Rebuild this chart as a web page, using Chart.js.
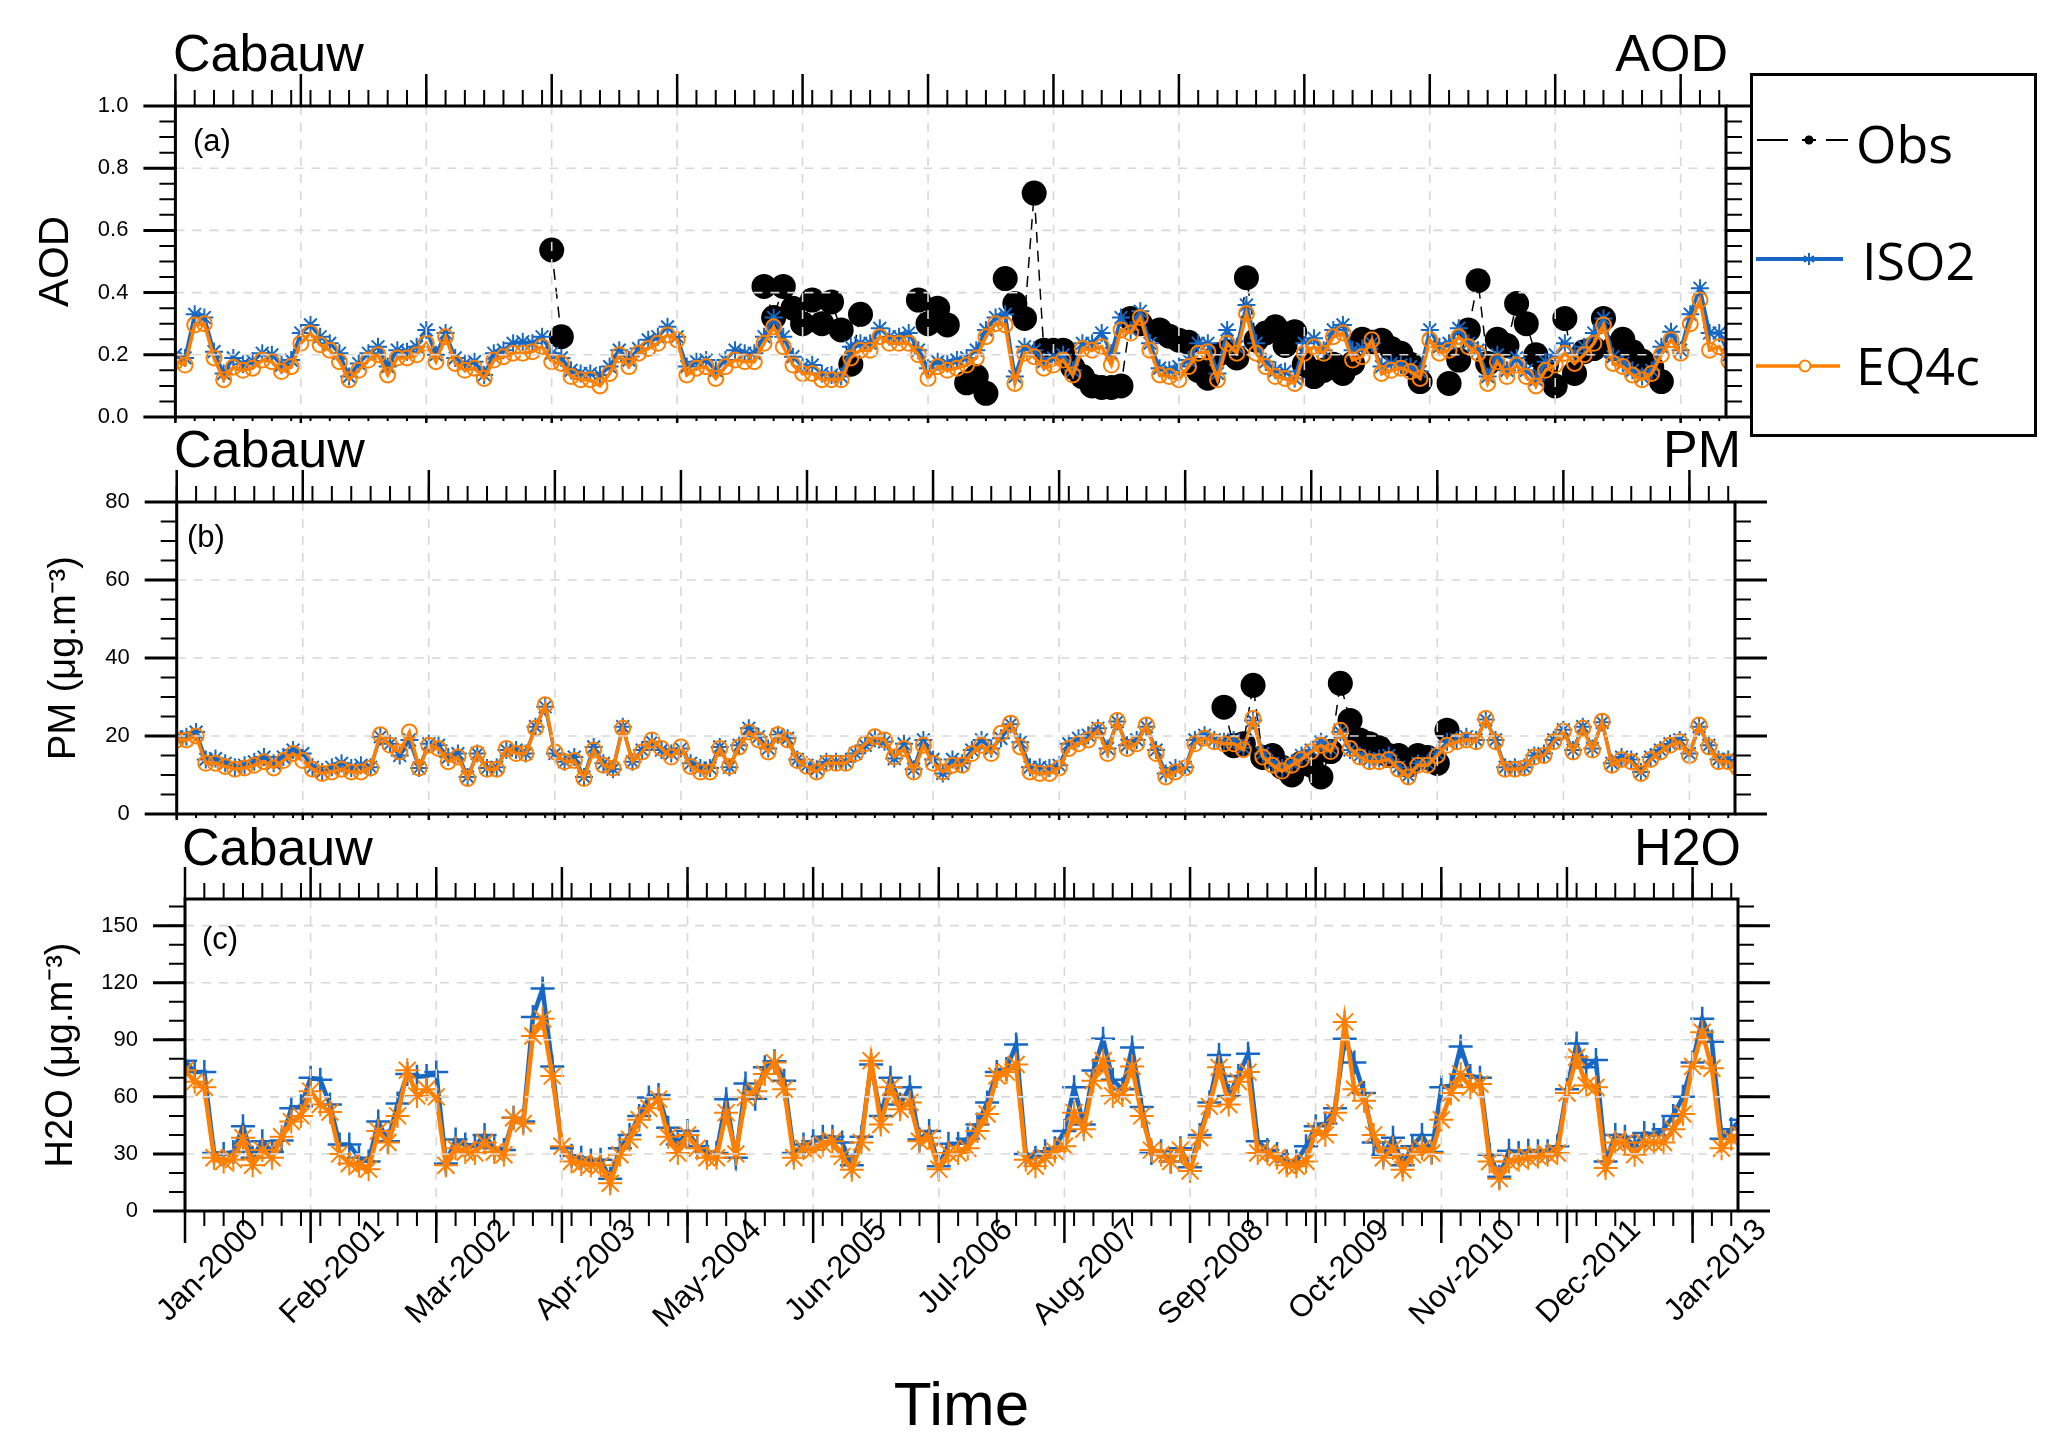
<!DOCTYPE html>
<html>
<head>
<meta charset="utf-8">
<script src="https://cdn.jsdelivr.net/npm/chart.js@4.4.1/dist/chart.umd.min.js"></script>
<style>
  body { margin: 0; width: 2067px; height: 1450px; position: relative; overflow: hidden; background: #fff;
         font-family: "Liberation Sans", Arial, sans-serif; color: #000; }
  canvas { position: absolute; left: 0; top: 0; }
  .t { position: absolute; white-space: nowrap; line-height: 1; z-index: 5; }
  .big { font-size: 52px; height: 52px; }
  .lab { font-size: 31px; height: 31px; }
  .leg { font-family: "Open Sans", sans-serif; font-size: 52px; height: 52px; }
  #legend { position: absolute; left: 1750px; top: 73px; width: 281px; height: 358px;
            border: 3px solid #000; background: #fff; z-index: 4; }
</style>
</head>
<body>
<canvas id="cA" width="2067" height="1450"></canvas>
<canvas id="cB" width="2067" height="1450"></canvas>
<canvas id="cC" width="2067" height="1450"></canvas>

<div class="t big" style="left:173px;top:27px">Cabauw</div>
<div class="t big" style="right:339px;top:27px">AOD</div>
<div class="t big" style="left:174px;top:423px">Cabauw</div>
<div class="t big" style="right:326px;top:423px">PM</div>
<div class="t big" style="left:182px;top:821px">Cabauw</div>
<div class="t big" style="right:326px;top:821px">H2O</div>
<div class="t lab" style="left:193px;top:125px">(a)</div>
<div class="t lab" style="left:187px;top:521px">(b)</div>
<div class="t lab" style="left:202px;top:923px">(c)</div>

<div id="legend">
  <svg width="281" height="358" style="position:absolute;left:0;top:0">
    <g stroke="#000" stroke-width="2">
      <line x1="4" y1="64" x2="35" y2="64"/><line x1="49" y1="64" x2="63" y2="64"/><line x1="73" y1="64" x2="95" y2="64"/>
    </g>
    <circle cx="56" cy="64" r="4.5" fill="#000"/>
    <line x1="3" y1="183" x2="90" y2="183" stroke="#1767c4" stroke-width="4"/>
    <g stroke="#1767c4" stroke-width="2">
      <line x1="56" y1="177" x2="56" y2="189"/><line x1="51" y1="180" x2="61" y2="186"/><line x1="51" y1="186" x2="61" y2="180"/>
    </g>
    <line x1="3" y1="290" x2="87" y2="290" stroke="#ff8000" stroke-width="3.5"/>
    <circle cx="52" cy="290" r="5.5" fill="#fff" stroke="#ff8000" stroke-width="2"/>
  </svg>
</div>
<div class="t leg" style="left:1856px;top:117px">Obs</div>
<div class="t leg" style="left:1862px;top:234px">ISO2</div>
<div class="t leg" style="left:1856px;top:339px">EQ4c</div>

<script>
// month index 0 = Jan-2000, monthly values
const monthLabels = ['Jan-2000', 'Feb-2001', 'Mar-2002', 'Apr-2003', 'May-2004', 'Jun-2005', 'Jul-2006',
  'Aug-2007', 'Sep-2008', 'Oct-2009', 'Nov-2010', 'Dec-2011', 'Jan-2013'];
const majorMonths = [0, 13, 26, 39, 52, 65, 78, 91, 104, 117, 130, 143, 156];
const xMax = 160.7;

const aodTicks = [0, 0.2, 0.4, 0.6, 0.8, 1.0];
const pmTicks = [0, 20, 40, 60, 80];
const h2oTicks = [0, 30, 60, 90, 120, 150];

const aodIso2 = [
  0.20, 0.19, 0.33, 0.32, 0.21, 0.14, 0.19, 0.17, 0.18, 0.205,
  0.20, 0.167, 0.183, 0.27, 0.296, 0.258, 0.237, 0.205, 0.13, 0.172,
  0.205, 0.226, 0.162, 0.215, 0.21, 0.226, 0.28, 0.20, 0.27, 0.19,
  0.172, 0.178, 0.135, 0.205, 0.215, 0.237, 0.242, 0.237, 0.258, 0.205,
  0.19, 0.15, 0.14, 0.14, 0.135, 0.162, 0.215, 0.183, 0.22, 0.248,
  0.258, 0.29, 0.258, 0.162, 0.178, 0.183, 0.15, 0.183, 0.215, 0.205,
  0.205, 0.258, 0.32, 0.258, 0.194, 0.162, 0.167, 0.14, 0.135, 0.13,
  0.226, 0.237, 0.237, 0.285, 0.258, 0.258, 0.27, 0.215, 0.157, 0.178,
  0.172, 0.183, 0.19, 0.215, 0.28, 0.32, 0.33, 0.13, 0.226, 0.215,
  0.178, 0.19, 0.20, 0.15, 0.237, 0.237, 0.27, 0.205, 0.32, 0.28,
  0.34, 0.237, 0.157, 0.15, 0.162, 0.183, 0.237, 0.237, 0.14, 0.28,
  0.226, 0.36, 0.237, 0.178, 0.15, 0.146, 0.124, 0.237, 0.253, 0.215,
  0.28, 0.296, 0.215, 0.22, 0.237, 0.162, 0.172, 0.167, 0.162, 0.146,
  0.28, 0.226, 0.237, 0.285, 0.237, 0.215, 0.13, 0.20, 0.15, 0.19,
  0.15, 0.12, 0.178, 0.20, 0.237, 0.205, 0.226, 0.27, 0.317, 0.194,
  0.172, 0.15, 0.13, 0.15, 0.226, 0.274, 0.215, 0.33, 0.414, 0.27,
  0.27, 0.20
];
const aodEq4c = [
  0.178, 0.167, 0.296, 0.30, 0.19, 0.12, 0.16, 0.15, 0.157, 0.183,
  0.178, 0.146, 0.162, 0.237, 0.27, 0.232, 0.215, 0.178, 0.12, 0.15,
  0.183, 0.20, 0.135, 0.19, 0.19, 0.20, 0.237, 0.178, 0.258, 0.172,
  0.15, 0.157, 0.124, 0.183, 0.194, 0.205, 0.205, 0.21, 0.226, 0.178,
  0.172, 0.13, 0.12, 0.12, 0.10, 0.14, 0.20, 0.162, 0.205, 0.22,
  0.237, 0.264, 0.248, 0.135, 0.157, 0.162, 0.124, 0.162, 0.183, 0.178,
  0.178, 0.237, 0.29, 0.226, 0.167, 0.14, 0.14, 0.12, 0.12, 0.12,
  0.19, 0.215, 0.215, 0.258, 0.237, 0.237, 0.237, 0.20, 0.124, 0.162,
  0.15, 0.157, 0.167, 0.19, 0.258, 0.30, 0.296, 0.108, 0.205, 0.194,
  0.157, 0.167, 0.183, 0.135, 0.22, 0.215, 0.226, 0.167, 0.28, 0.27,
  0.32, 0.215, 0.135, 0.13, 0.12, 0.162, 0.205, 0.21, 0.12, 0.237,
  0.205, 0.333, 0.205, 0.162, 0.13, 0.124, 0.108, 0.205, 0.226, 0.205,
  0.258, 0.27, 0.183, 0.194, 0.248, 0.14, 0.15, 0.157, 0.146, 0.124,
  0.248, 0.205, 0.215, 0.258, 0.226, 0.205, 0.108, 0.178, 0.13, 0.167,
  0.13, 0.10, 0.15, 0.167, 0.205, 0.172, 0.20, 0.237, 0.296, 0.172,
  0.162, 0.135, 0.12, 0.14, 0.20, 0.248, 0.205, 0.30, 0.376, 0.215,
  0.226, 0.18
];
// observations only exist for some months
const aodObsMonth = [39, 40, 61, 62, 63, 64, 65, 66, 67, 68, 69, 70, 71, 77, 78, 79, 80, 82, 83, 84,
  86, 87, 88, 89, 90, 91, 92, 93, 94, 95, 96, 97, 98, 99, 100, 102, 103, 104, 105, 106, 107, 108, 109,
  110, 111, 112, 113, 114, 115, 116, 117, 118, 119, 120, 121, 122, 123, 124, 125, 126, 127, 128, 129,
  132, 133, 134, 135, 136, 137, 138, 139, 140, 141, 142, 143, 144, 145, 146, 147, 148, 149, 150, 151,
  152, 153, 154];
const aodObs = [0.537, 0.258, 0.42, 0.32, 0.42, 0.35, 0.30, 0.376, 0.30, 0.37, 0.28, 0.17, 0.33, 0.376,
  0.30, 0.35, 0.296, 0.11, 0.13, 0.076,
  0.445, 0.365, 0.317, 0.72, 0.215, 0.215, 0.215, 0.16, 0.13, 0.10, 0.095, 0.095, 0.10, 0.317, 0.30,
  0.28, 0.26, 0.247, 0.24, 0.15, 0.125, 0.20, 0.21,
  0.19, 0.448, 0.247, 0.27, 0.29, 0.23, 0.274, 0.17, 0.13, 0.15, 0.17, 0.14, 0.172, 0.25, 0.24, 0.247,
  0.22, 0.205, 0.17, 0.114,
  0.108, 0.183, 0.28, 0.438, 0.172, 0.25, 0.23, 0.365, 0.30, 0.20, 0.15, 0.10, 0.317, 0.14, 0.21, 0.22,
  0.317, 0.22, 0.25, 0.21, 0.18, 0.16, 0.114];

const pmIso2 = [
  19.8, 19.8, 21, 14, 14.2, 13, 12, 12.5, 13.4, 14.6,
  13, 14.6, 16.4, 15.5, 12, 10.8, 12, 13, 11.8, 12.5,
  12, 19.8, 18, 15, 19, 11.8, 18, 17.6, 14.6, 15.5,
  9.5, 15.5, 11.8, 12, 16.4, 16.4, 15.5, 22.4, 27.5, 15.5,
  13.4, 14.6, 9.5, 17.2, 13, 11.5, 22.4, 13.4, 16.4, 18.5,
  16.4, 15.5, 16.8, 13, 11.8, 11.8, 17.2, 12, 17.6, 22,
  19.8, 16.8, 20.3, 19.4, 14, 12.5, 11.5, 13.4, 13.4, 13.4,
  15.5, 17.6, 19.4, 18.5, 14.2, 18, 11.5, 19, 14, 10.4,
  14, 13, 16.4, 19, 16.8, 19.4, 23, 18.4, 12, 12,
  11.8, 12.5, 18, 19.4, 20.2, 22, 16.8, 23.7, 17.6, 19,
  22.4, 16.4, 10.4, 11.8, 12, 19, 20.2, 19, 18.5, 19,
  17, 24, 15.5, 13, 11.8, 13, 15, 16.4, 18.5, 16.8,
  21, 16.4, 15, 14, 14.2, 15, 12, 9.9, 13, 13,
  15.5, 18.5, 19, 19.8, 19, 24.2, 19, 12, 12, 12,
  15, 15.5, 19, 21.6, 16.4, 22.4, 16.8, 23.5, 13, 14.6,
  14, 10.8, 14.6, 16.4, 18, 19, 15.5, 22.4, 17.6, 14,
  14, 12
];
const pmEq4c = [
  19, 19, 20, 13, 13, 12.2, 11.5, 11.8, 12.5, 13.4,
  11.8, 13.7, 15.5, 13.7, 11.5, 10.4, 10.8, 11.5, 10.8, 10.8,
  11.8, 20.3, 17.6, 15.9, 21, 11.8, 17.6, 16.8, 13.4, 14.6,
  9.1, 15.5, 11.5, 11.5, 16.8, 15.5, 15.5, 22, 28, 15.9,
  13.4, 13.7, 9.1, 16.4, 12.5, 11.8, 22, 13.4, 15.9, 19,
  16.8, 14.6, 17.2, 12.2, 10.8, 10.8, 16.8, 12.2, 17.2, 21,
  19, 15.9, 20.3, 19, 13.7, 12.2, 10.8, 13, 13, 13,
  15.5, 18, 19.8, 19, 14.6, 16.8, 10.8, 17.6, 13, 10.8,
  12.5, 12.5, 15.5, 17.6, 15.5, 20.7, 23.3, 17.2, 10.8, 10.4,
  10.4, 11.8, 16.8, 18, 19, 21.5, 15.5, 24, 16.8, 18,
  22.8, 15.5, 9.5, 10.8, 11.8, 18, 19.5, 18.5, 18, 18,
  16.5, 24.5, 14.6, 12.5, 11, 12.5, 14, 16, 17.6, 16,
  21.5, 16.8, 14.6, 13.4, 13.4, 14, 11.5, 9.5, 12.5, 12.5,
  15, 17.6, 18.5, 19, 18.5, 24.5, 18.5, 11.5, 11.5, 11.8,
  14.6, 15, 18.5, 21.2, 15.9, 22, 16.4, 23.8, 12.5, 14,
  13.4, 10.4, 14, 15.9, 17.6, 18.5, 15, 22.8, 17.2, 13.4,
  13.4, 11.8
];
const pmObsMonth = [108, 109, 110, 111, 112, 113, 114, 115, 116, 117, 118, 119,
  120, 121, 122, 123, 124, 125, 126, 127, 128, 129, 130, 131];
const pmObs = [27.4, 17.5, 18, 33, 14.5, 15, 12, 10, 13, 12.5, 9.5, 16,
  33.5, 24, 19, 18, 17, 15, 15, 12.5, 15, 14.5, 13, 21.5];

const h2oIso2 = [
  79, 73, 73, 30.5, 30, 31, 44.6, 28, 36.7, 31,
  37, 54, 55, 70, 69, 56, 35, 35, 28, 26,
  47, 36.7, 56.5, 72, 70.6, 71, 73, 25, 37.6, 35,
  34, 40, 33, 32, 49, 47, 102, 117, 76, 33,
  29, 28, 26.5, 27, 17, 33, 40, 50, 59.6, 61,
  43.7, 35, 42, 34, 31, 30.5, 58.8, 28, 67, 59,
  75.5, 78.7, 68.5, 30.5, 35, 36.7, 39, 39, 36, 24,
  39, 77, 50, 70, 56, 65, 37.6, 42, 23.5, 35.3,
  35.3, 38, 45.5, 57, 73, 74.6, 87.5, 30, 28, 31.4,
  33, 42, 65, 45.5, 73.8, 90.5, 69, 64, 86, 54.7,
  30.5, 31.4, 26, 33, 23, 40, 57, 82, 60.5, 71,
  82.6, 36.7, 32, 30, 26, 26, 34, 44.6, 46, 54,
  90.5, 78, 62, 36, 29.6, 38.5, 24, 34, 40, 31,
  65, 66, 86.5, 71, 70, 29.6, 18, 31.7, 30.5, 31.7,
  31.4, 31.4, 34, 64, 88, 75.5, 79.4, 26, 40, 39,
  34, 41, 40, 43, 50, 60, 78, 101, 89, 38,
  43, 48
];
const h2oEq4c = [
  74, 68, 65, 28, 26, 27, 38.5, 24, 32, 28,
  39, 47, 50, 63, 56, 52, 30, 25, 24, 22,
  42, 36, 50, 74, 60.5, 64, 60, 24, 33, 31,
  30.5, 36, 31, 29.6, 49, 46, 92, 101, 71, 34,
  26, 24.7, 24, 24, 14.6, 29.6, 37.6, 48, 54, 58.8,
  39, 30.5, 40, 33, 28, 28, 51.7, 30, 59.6, 63,
  72, 78, 64, 28, 33, 32, 35, 36.7, 28.7, 21.7,
  36, 79, 45.5, 65, 53.5, 57, 36.7, 38.5, 22, 30.5,
  30.5, 33, 42, 51, 71, 73, 77, 27, 23.5, 28,
  31.4, 34, 51.7, 43, 68.5, 79, 60.5, 61, 76, 50,
  32, 29.6, 26, 32, 21, 38.5, 55, 75.5, 56, 68,
  73, 30.5, 30.5, 28, 24, 23.5, 26, 42, 40, 51.7,
  99.4, 64, 58, 40, 28, 33, 21.7, 29.6, 33, 30.5,
  48, 62, 72, 65, 66.7, 26, 17, 26, 27, 28,
  28.7, 29.6, 30.5, 62, 80.8, 66, 65, 22.6, 36, 36,
  29.6, 36, 36, 36, 43, 51, 76, 94, 75, 33,
  38, 40
];

const BLUE = '#1767c4';
const ORANGE = '#ff8000';
const FONT = '"Liberation Sans", Arial, sans-serif';

Chart.defaults.font.family = FONT;
Chart.defaults.color = '#000';

function series(values) {
  return values.map((v, i) => ({ x: i, y: v }));
}

// put a null between non-consecutive months so the dashed line breaks
function obsSeries(months, values) {
  const out = [];
  months.forEach((m, i) => {
    if (i > 0 && m - months[i - 1] > 1) out.push({ x: months[i - 1] + 1, y: null });
    out.push({ x: m, y: values[i] });
  });
  return out;
}

// frame, outward major/minor ticks on 4 sides and dashed grid (NCL style)
function framePlugin(p) {
  return {
    id: 'frame',
    afterDatasetsDraw(chart) {
      const { ctx, chartArea: a, scales: { x, y } } = chart;
      ctx.save();
      ctx.strokeStyle = '#d8d8d8';
      ctx.lineWidth = 1.6;
      ctx.setLineDash([9, 8]);
      ctx.beginPath();
      majorMonths.forEach(v => {
        const px = x.getPixelForValue(v);
        if (px > a.left + 3 && px < a.right - 3) { ctx.moveTo(px, a.top); ctx.lineTo(px, a.bottom); }
      });
      p.yTicks.forEach(v => {
        const py = y.getPixelForValue(v);
        if (py > a.top + 3 && py < a.bottom - 3) { ctx.moveTo(a.left, py); ctx.lineTo(a.right, py); }
      });
      ctx.stroke();
      ctx.restore();
    },
    afterDraw(chart) {
      const { ctx, chartArea: a, scales: { x, y } } = chart;
      ctx.save();
      ctx.strokeStyle = '#000';
      ctx.setLineDash([]);

      const xTick = (v, up, down, w) => {
        const px = x.getPixelForValue(v);
        ctx.lineWidth = w;
        ctx.beginPath();
        ctx.moveTo(px, a.top); ctx.lineTo(px, a.top - up);
        ctx.moveTo(px, a.bottom); ctx.lineTo(px, a.bottom + down);
        ctx.stroke();
      };
      const yTick = (v, len, w) => {
        const py = y.getPixelForValue(v);
        ctx.lineWidth = w;
        ctx.beginPath();
        ctx.moveTo(a.left, py); ctx.lineTo(a.left - len, py);
        ctx.moveTo(a.right, py); ctx.lineTo(a.right + len, py);
        ctx.stroke();
      };

      for (let m = 0; m <= xMax; m += 2) xTick(m, 16, p.botMinor, 2);
      majorMonths.forEach(m => xTick(m, 32, p.botMajor, 2.5));
      const nMinor = Math.round(p.yMax / p.yMinor);
      for (let k = 0; k <= nMinor; k++) yTick(k * p.yMinor, 16, 2);
      p.yTicks.forEach(v => yTick(v, 32, 3));

      ctx.lineWidth = 3;
      ctx.strokeRect(a.left, a.top, a.right - a.left, a.bottom - a.top);
      ctx.restore();
    }
  };
}

function makePanel(p) {
  const isC = p.style === 'c';
  const datasets = [
    {
      label: 'EQ4c', data: series(p.eq), borderColor: ORANGE, borderWidth: isC ? 4.5 : 3.5,
      pointStyle: isC ? 'star' : 'circle', pointRadius: isC ? 12 : 7.5, pointBorderWidth: 2,
      pointBorderColor: ORANGE, pointBackgroundColor: 'rgba(255,255,255,0)', tension: 0
    },
    {
      label: 'ISO2', data: series(p.iso), borderColor: BLUE, borderWidth: isC ? 4.5 : 3.5,
      pointStyle: isC ? 'cross' : 'star', pointRadius: isC ? 12 : 9, pointBorderWidth: isC ? 2.5 : 2,
      pointBorderColor: BLUE, pointBackgroundColor: BLUE, tension: 0
    }
  ];
  if (p.obs) {
    datasets.push({
      label: 'Obs', data: obsSeries(p.obsM, p.obs), borderColor: '#000', borderWidth: 1.5,
      borderDash: [11, 8], pointStyle: 'circle', pointRadius: 12.5, pointBorderWidth: 0,
      pointBackgroundColor: '#000', spanGaps: false, tension: 0
    });
  }

  return new Chart(document.getElementById(p.canvas), {
    type: 'line',
    data: { datasets },
    options: {
      responsive: false,
      animation: false,
      devicePixelRatio: 1,
      events: [],
      layout: { padding: { left: 0, top: p.top, right: 2067 - p.right, bottom: 0 } },
      plugins: { legend: { display: false }, tooltip: { enabled: false } },
      scales: {
        x: {
          type: 'linear', min: 0, max: xMax,
          afterBuildTicks: s => { s.ticks = majorMonths.map(v => ({ value: v })); },
          afterFit: s => { s.height = 1450 - p.bottom; s.paddingLeft = 0; s.paddingRight = 0; },
          grid: { display: false, drawTicks: false },
          border: { display: false },
          ticks: {
            display: p.showX, autoSkip: false, minRotation: 45, maxRotation: 45,
            padding: 1, labelOffset: 69, font: { size: 31 }, color: '#000',
            callback: (v, i) => monthLabels[i]
          },
          title: { display: p.showX, text: 'Time', font: { size: 62 }, color: '#000', padding: { top: 0, bottom: 5 } }
        },
        y: {
          type: 'linear', min: 0, max: p.yMax,
          afterBuildTicks: s => { s.ticks = p.yTicks.map(v => ({ value: v })); },
          afterFit: s => { s.width = p.left; s.paddingTop = 0; s.paddingBottom = 0; },
          grid: { display: false, drawTicks: false },
          border: { display: false },
          ticks: { padding: 47, font: { size: 22 }, color: '#000', callback: v => p.fmt(v) },
          title: { display: true, text: p.yTitle, font: { size: p.yTitleSize }, color: '#000', padding: { top: p.yTitlePad, bottom: 0 } }
        }
      }
    },
    plugins: [framePlugin(p)]
  });
}

makePanel({
  canvas: 'cA', left: 175.4, right: 1726, top: 106, bottom: 417,
  yMax: 1, yTicks: aodTicks, yMinor: 0.05, yTitle: 'AOD', yTitleSize: 42, yTitlePad: 31, fmt: v => v.toFixed(1),
  botMajor: 6, botMinor: 4, showX: false, style: 'ab',
  iso: aodIso2, eq: aodEq4c, obsM: aodObsMonth, obs: aodObs
});
makePanel({
  canvas: 'cB', left: 176.7, right: 1735, top: 502, bottom: 814,
  yMax: 80, yTicks: pmTicks, yMinor: 5, yTitle: 'PM (\u03bcg.m\u207b\u00b3)', yTitleSize: 38, yTitlePad: 42, fmt: v => String(v),
  botMajor: 6, botMinor: 4, showX: false, style: 'ab',
  iso: pmIso2, eq: pmEq4c, obsM: pmObsMonth, obs: pmObs
});
makePanel({
  canvas: 'cC', left: 185, right: 1738, top: 899, bottom: 1211,
  yMax: 164, yTicks: h2oTicks, yMinor: 10, yTitle: 'H2O (\u03bcg.m\u207b\u00b3)', yTitleSize: 38, yTitlePad: 39, fmt: v => String(v),
  botMajor: 32, botMinor: 15, showX: true, style: 'c',
  iso: h2oIso2, eq: h2oEq4c
});
</script>
</body>
</html>
